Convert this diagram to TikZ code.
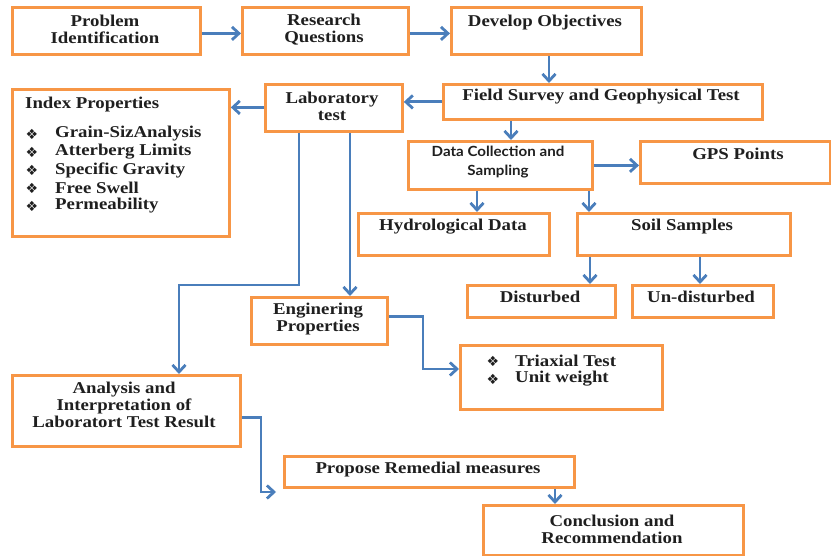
\documentclass[tikz,border=0pt]{standalone}
\usepackage{fontspec}
\setmainfont{Liberation Serif}[FakeStretch=1.14]
\newfontfamily\sansf{Lato}[FakeStretch=1.08]
\newfontfamily\symf{DejaVu Sans}
\usetikzlibrary{arrows.meta}
\definecolor{bord}{RGB}{247,150,70}
\definecolor{arr}{RGB}{74,126,187}
\begin{document}
\begin{tikzpicture}[x=1pt,y=-1pt,
  box/.style={draw=bord, line width=2.8pt, fill=white, inner sep=0pt, anchor=north west},
  lbl/.style={font=\fontsize{16.5}{17}\selectfont\bfseries, align=center, inner sep=0pt, text=black!88},
  itm/.style={font=\fontsize{16.5}{17}\selectfont\bfseries, inner sep=0pt, anchor=west, text=black!88},
  bul/.style={font=\symf\fontsize{14}{14}\selectfont, inner sep=0pt, text=black!88},
  conn/.style={draw=arr, line width=2.8pt, -{Straight Barb[length=7pt,width=13pt]}}]
\useasboundingbox (0,0) rectangle (831,556);
% boxes
\node[box, minimum width=188pt, minimum height=47pt] (pi) at (11,6) {};
\node[box, minimum width=166pt, minimum height=47pt] (rq) at (241,6) {};
\node[box, minimum width=190pt, minimum height=47pt] (do) at (450,6) {};
\node[box, minimum width=319pt, minimum height=35pt] (fs) at (442,83) {};
\node[box, minimum width=137pt, minimum height=47pt] (lab) at (264,83) {};
\node[box, minimum width=217pt, minimum height=147pt] (idx) at (11,88) {};
\node[box, minimum width=184pt, minimum height=48pt] (dat) at (407,140) {};
\node[box, minimum width=190pt, minimum height=42pt] (gps) at (639,140) {};
\node[box, minimum width=191pt, minimum height=42pt] (hyd) at (357,212) {};
\node[box, minimum width=213pt, minimum height=42pt] (soil) at (576,212) {};
\node[box, minimum width=148pt, minimum height=32pt] (dis) at (466,284) {};
\node[box, minimum width=141pt, minimum height=32pt] (und) at (631,284) {};
\node[box, minimum width=136pt, minimum height=47pt] (eng) at (250,296) {};
\node[box, minimum width=202pt, minimum height=64pt] (tri) at (459,344) {};
\node[box, minimum width=228pt, minimum height=71pt] (ana) at (11,374) {};
\node[box, minimum width=290pt, minimum height=31pt] (pr) at (283,455) {};
\node[box, minimum width=260pt, minimum height=50pt] (concl) at (482,504) {};
% labels
\node[lbl] (tpi) at (105,29.5) {Problem\\Identification};
\node[lbl] (trq) at (324,29.5) {Research\\Questions};
\node[lbl] (tdo) at (545,23) {Develop Objectives};
\node[lbl] (tfs) at (601,97) {Field Survey and Geophysical Test};
\node[lbl] (tlab) at (332,106) {Laboratory\\test};
\node[align=center, inner sep=0pt, text=black!88, font=\sansf\fontsize{14}{19}\selectfont\bfseries] (tdat) at (498,162.5) {Data Collection and\\Sampling};
\node[lbl] (tgps) at (738,154) {GPS Points};
\node[lbl] (thyd) at (453,227) {Hydrological Data};
\node[lbl] (tsoil) at (682,227) {Soil Samples};
\node[lbl] (tdis) at (540,297) {Disturbed};
\node[lbl] (tund) at (701,297) {Un-disturbed};
\node[lbl] (teng) at (318,319.5) {Enginering\\Properties};
\node[lbl] (tana) at (124,405) {Analysis and\\Interpretation of\\Laboratort Test Result};
\node[lbl] (tpr) at (428,470) {Propose Remedial measures};
\node[lbl] (tcon) at (612,529) {Conclusion and\\Recommendation};
% index list
\node[itm] (ih) at (25,105) {Index Properties};
\node[bul] (b1) at (32,134) {❖};
\node[itm] (i1) at (55,134) {Grain-SizAnalysis};
\node[bul] (b2) at (32,152) {❖};
\node[itm] (i2) at (55,152) {Atterberg Limits};
\node[bul] (b3) at (32,170) {❖};
\node[itm] (i3) at (55,170) {Specific Gravity};
\node[bul] (b4) at (32,188) {❖};
\node[itm] (i4) at (55,188) {Free Swell};
\node[bul] (b5) at (32,206) {❖};
\node[itm] (i5) at (55,206) {Permeability};
% triaxial list
\node[bul] (b6) at (493,361) {❖};
\node[itm] (i6) at (515,361) {Triaxial Test};
\node[bul] (b7) at (493,379) {❖};
\node[itm] (i7) at (515,379) {Unit weight};
% connectors
\draw[conn] ([yshift=-2.5pt]pi.east) -- ([yshift=-2.5pt]rq.west);
\draw[conn] ([yshift=-2.5pt]rq.east) -- ([yshift=-2.5pt]do.west);
\draw[conn] (549,0 |- do.south) -- (549,0 |- fs.north);
\draw[conn] (fs.west) -- (fs.west -| lab.east);
\draw[conn] ([yshift=0.5pt]lab.west) -- ([yshift=0.5pt]lab.west -| idx.east);
\draw[conn] (511,0 |- fs.south) -- (511,0 |- dat.north);
\draw[conn] (dat.east) -- (dat.east -| gps.west);
\draw[conn] (477,0 |- dat.south) -- (477,0 |- hyd.north);
\draw[conn] (589,0 |- dat.south) -- (589,0 |- soil.north);
\draw[conn] (590,0 |- soil.south) -- (590,0 |- dis.north);
\draw[conn] (700,0 |- soil.south) -- (700,0 |- und.north);
\draw[conn] (350,0 |- lab.south) -- (350,0 |- eng.north);
\coordinate (c1) at (179,285);
\draw[conn] (299,0 |- lab.south) |- (c1) -- (c1 |- ana.north);
\coordinate (c2) at (423,369);
\draw[conn] ([yshift=4pt]eng.east) -| (c2) -- (c2 -| tri.west);
\coordinate (c3) at (261,492);
\coordinate (pe) at (276,492);
\draw[conn] ([yshift=-6.5pt]ana.east) -| (c3) -- (pe);
\draw[conn] (555,0 |- pr.south) -- (555,0 |- concl.north);
\end{tikzpicture}
\end{document}
